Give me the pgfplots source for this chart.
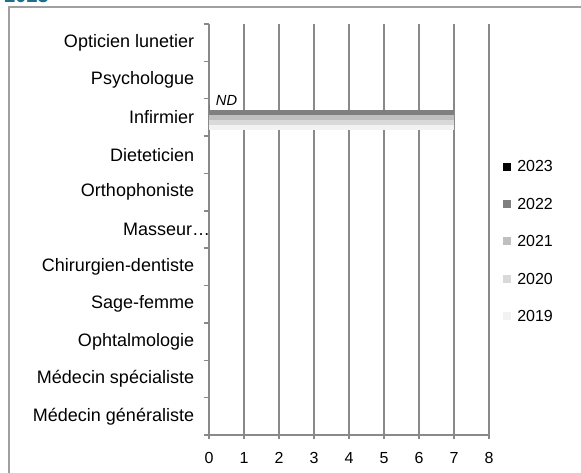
\documentclass[border=0pt]{standalone}
\usepackage{fontspec}
\setmainfont{Liberation Sans}
\usepackage{pgfplots}
\pgfplotsset{compat=1.18}
\definecolor{gridgray}{HTML}{898989}
\definecolor{framegray}{HTML}{A0A0A0}
\definecolor{titleteal}{HTML}{1F6F8B}
\definecolor{c2023}{HTML}{000000}
\definecolor{c2022}{HTML}{7F7F7F}
\definecolor{c2021}{HTML}{BFBFBF}
\definecolor{c2020}{HTML}{D9D9D9}
\definecolor{c2019}{HTML}{F2F2F2}
\begin{document}
\begin{tikzpicture}
% 1px = 0.75pt, picture is 581x472 px
\useasboundingbox (0pt,0pt) rectangle (435.75pt,354pt);
\begin{scope}
\clip (0pt,0pt) rectangle (435.75pt,354pt);
\draw[framegray, line width=1.5pt] (6.375pt,-15pt) -- (6.375pt,348.4pt) -- (450pt,348.4pt);
\node[anchor=base west, text=titleteal, font=\bfseries\fontsize{15}{17}\selectfont, inner sep=0pt] at (3pt,351.8pt) {2023};
\end{scope}
\begin{axis}[
  at={(156.75pt,27.75pt)}, anchor=south west,
  scale only axis, width=210pt, height=308.25pt,
  xbar, bar width=3.8pt,
  xmin=0, xmax=8, ymin=-0.5, ymax=10.5,
  xtick={0,...,8}, ytick={0,...,10},
  yticklabels={Médecin généraliste, Médecin spécialiste, Ophtalmologie, Sage-femme, Chirurgien-dentiste, \hspace*{12pt}\rlap{Masseur…}\hspace*{-12pt}\phantom{Masseur…}, Orthophoniste, Dieteticien, Infirmier, Psychologue, Opticien lunetier},
  minor ytick={-0.5,0.5,...,10.5},
  axis lines*=left,
  axis line style={gridgray, line width=1.1pt},
  xmajorgrids, major grid style={gridgray, line width=1.1pt},
  tick align=outside,
  major tick length=3pt, minor tick length=4pt,
  major y tick style={draw=none},
  minor y tick style={gridgray, line width=1.1pt},
  major x tick style={gridgray, line width=1.1pt},
  /pgf/number format/assume math mode=true,
  yticklabel style={font=\fontsize{13.5}{15}\selectfont, inner sep=0pt, xshift=-8pt},
  xticklabel style={font=\fontsize{12}{14}\selectfont, inner sep=0pt, text height=8.6pt, text depth=0pt, yshift=-9.5pt},
  legend style={at={(1.05,0.4696)}, anchor=west, draw=none, fill=none,
    inner sep=0pt, row sep=16.1pt, font=\fontsize{12}{14}\selectfont,
    nodes={inner sep=0pt}, cells={anchor=west}},
  reverse legend,
  legend image code/.code={\path[fill=none, draw=none] (0pt,-6pt) rectangle (10.5pt,6pt); \fill[#1] (0pt,-2.6pt) rectangle (6pt,3.4pt);},
]
\addplot[fill=c2019, draw=none, bar shift=-7.6pt] coordinates {(7,8)};
\addplot[fill=c2020, draw=none, bar shift=-3.8pt] coordinates {(7,8)};
\addplot[fill=c2021, draw=none, bar shift=0pt] coordinates {(7,8)};
\addplot[fill=c2022, draw=none, bar shift=3.8pt] coordinates {(7,8)};
\addplot[fill=c2023, draw=none, bar shift=7.6pt] coordinates {(0,8)};
\legend{2019,2020,2021,2022,2023}
\node[font=\itshape\fontsize{11}{13}\selectfont, anchor=west, inner sep=0pt] at ([xshift=5pt,yshift=13pt]axis cs:0,8) {ND};
\end{axis}
\end{tikzpicture}
\end{document}
